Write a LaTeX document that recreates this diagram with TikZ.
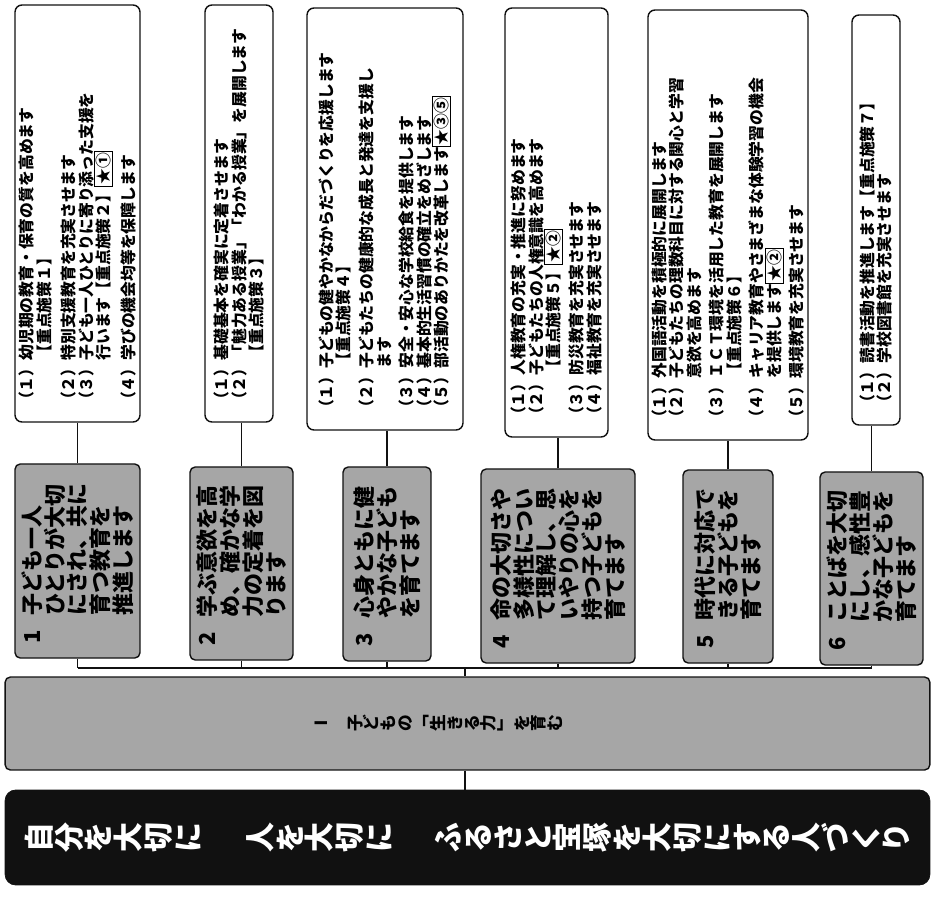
\documentclass[tikz,border=0pt]{standalone}
\usepackage{fontspec}
\setmainfont{Noto Sans CJK JP}
\usepackage{graphicx}
\usepackage{tikz}
\usetikzlibrary{calc}
\definecolor{ink}{HTML}{111111}
\definecolor{screen}{HTML}{A6A6A6}
\setlength{\fboxsep}{0.6pt}
\setlength{\fboxrule}{0.6pt}
\newcommand{\tate}[1]{\tateloop#1\relax}
\def\tateloop#1{\ifx\relax#1\else\rotatebox[origin=c]{90}{\raisebox{0pt}[0.88em][0.12em]{\makebox[1em]{#1}}}\expandafter\tateloop\fi}
\newcommand{\pnum}[1]{（#1）}
\newcommand{\pind}{\hspace*{3em}}
\newcommand{\gnum}[1]{\makebox[1.3em][l]{#1}}
\newcommand{\gind}{\hspace*{1.3em}}
\newcommand{\hoshi}[1]{\fbox{★#1}}

\begin{document}
\begin{tikzpicture}[x=0.02cm, y=-0.02cm,
  every node/.style={font=\bfseries},
  plan/.style={draw=ink, line width=0.8pt, rounded corners=4pt, fill=white, rotate=90, align=left, inner xsep=8pt, inner ysep=2pt, font=\bfseries\fontsize{9}{9.9}\selectfont},
  aim/.style={draw=ink, line width=0.8pt, rounded corners=3pt, fill=screen, rotate=90, align=left, inner xsep=8pt, font=\bfseries\fontsize{12.5}{13}\selectfont},
  link/.style={draw=ink, line width=0.6pt}]
  \useasboundingbox (0,0) rectangle (938,900);
  \node[draw=ink, fill=ink, rounded corners=6pt, minimum width=18.5cm, minimum height=1.9cm, text=white, font=\bfseries\fontsize{17}{17}\selectfont] (banner) at (467.5,837.5) {\tate{自分を大切に}\hspace{1.4em}\tate{人を大切に}\hspace{1.3em}\tate{ふるさと宝塚を大切にする人づくり}};
  \node[draw=ink, line width=0.8pt, fill=screen, rounded corners=3pt, minimum width=18.5cm, minimum height=1.86cm, font=\bfseries\fontsize{9.5}{9.5}\selectfont] (goal) at (467.5,723.5) {\tate{Ⅰ}\hspace{1em}\tate{子どもの﹁生きる力﹂を育む}\hspace{3.5em}\mbox{}};
  \coordinate (bus) at (465,668);

  \node[aim, minimum width=3.88cm, minimum height=2.5cm, text width=3.32cm] (s1) at (77.5,561) {\gnum{1}子ども一人\\\gind ひとりが大切\\\gind にされ、共に\\\gind 育つ教育を\\\gind 推進します};
  \node[aim, minimum width=3.86cm, minimum height=2.06cm, text width=3.3cm] (s2) at (241.5,563.5) {\gnum{2}学ぶ意欲を高\\\gind め、確かな学\\\gind 力の定着を図\\\gind ります};
  \node[aim, minimum width=3.88cm, minimum height=1.76cm, text width=3.32cm] (s3) at (387,564) {\gnum{3}心身ともに健\\\gind やかな子ども\\\gind を育てます};
  \node[aim, minimum width=3.88cm, minimum height=3.08cm, text width=3.32cm] (s4) at (558,566) {\gnum{4}命の大切さや\\\gind 多様性につい\\\gind て理解し、思\\\gind いやりの心を\\\gind 持つ子どもを\\\gind 育てます};
  \node[aim, minimum width=3.86cm, minimum height=1.8cm, text width=3.3cm] (s5) at (728,566.5) {\gnum{5}時代に対応で\\\gind きる子どもを\\\gind 育てます};
  \node[aim, minimum width=3.86cm, minimum height=2.06cm, text width=3.3cm] (s6) at (871.5,568.5) {\gnum{6}ことばを大切\\\gind にし、感性豊\\\gind かな子どもを\\\gind 育てます};

  \node[plan, minimum width=8.34cm, minimum height=2.5cm, text width=7.78cm] (d1) at (77.5,213.5) {\pnum{１}幼児期の教育・保育の質を高めます\\\pind【重点施策１】\\[4pt]\pnum{２}特別支援教育を充実させます\\\pnum{３}子ども一人ひとりに寄り添った支援を\\\pind 行います【重点施策２】\hoshi{①}\\[4pt]\pnum{４}学びの機会均等を保障します};
  \node[plan, minimum width=8.34cm, minimum height=1.36cm, text width=7.78cm] (d2) at (239,213.5) {\pnum{１}基礎基本を確実に定着させます\\\pnum{２}「魅力ある授業」「わかる授業」を展開します\\\pind【重点施策３】};
  \node[plan, minimum width=8.44cm, minimum height=3.12cm, text width=7.88cm] (d3) at (385,219) {\pnum{１}子どもの健やかなからだづくりを応援します\\\pind【重点施策４】\\[3pt]\pnum{２}子どもたちの健康的な成長と発達を支援し\\\pind ます\\[3pt]\pnum{３}安全・安心な学校給食を提供します\\\pnum{４}基本的生活習慣の確立をめざします\\\pnum{５}部活動のありかたを改革します\hoshi{③⑤}};
  \node[plan, minimum width=8.58cm, minimum height=2.06cm, text width=8.02cm] (d4) at (556.5,222.5) {\pnum{１}人権教育の充実・推進に努めます\\\pnum{２}子どもたちの人権意識を高めます\\\pind【重点施策５】\hoshi{②}\\[3.5pt]\pnum{３}防災教育を充実させます\\\pnum{４}福祉教育を充実させます};
  \node[plan, minimum width=8.6cm, minimum height=3.2cm, text width=8.04cm] (d5) at (728,225) {\pnum{１}外国語活動を積極的に展開します\\\pnum{２}子どもたちの理数科目に対する関心と学習\\\pind 意欲を高めます\\[3pt]\pnum{３}ＩＣＴ環境を活用した教育を展開します\\\pind【重点施策６】\\[3pt]\pnum{４}キャリア教育やさまざまな体験学習の機会\\\pind を提供します\hoshi{②}\\[3pt]\pnum{５}環境教育を充実させます};
  \node[plan, minimum width=8.2cm, minimum height=0.96cm, text width=7.64cm] (d6) at (876,220) {\pnum{１}読書活動を推進します【重点施策７】\\\pnum{２}学校図書館を充実させます};

  \draw[link] (s1.east) -- (s1.east |- d1.west);
  \draw[link] (s2.east) -- (s2.east |- d2.west);
  \draw[link] (s3.east) -- (s3.east |- d3.west);
  \draw[link] (s4.east) -- (s4.east |- d4.west);
  \draw[link] (s5.east) -- (s5.east |- d5.west);
  \draw[link] (s6.east) -- (s6.east |- d6.west);
  \draw[link] (s1.west) -- (s1.west |- bus);
  \draw[link] (s2.west) -- (s2.west |- bus);
  \draw[link] (s3.west) -- (s3.west |- bus);
  \draw[link] (s4.west) -- (s4.west |- bus);
  \draw[link] (s5.west) -- (s5.west |- bus);
  \draw[link] (s6.west) -- (s6.west |- bus);
  \draw[link] (s1.west |- bus) -- (s6.west |- bus);
  \draw[link] (bus) -- (bus |- goal.north);
  \draw[link] (goal.south -| bus) -- (banner.north -| bus);
\end{tikzpicture}
\end{document}
